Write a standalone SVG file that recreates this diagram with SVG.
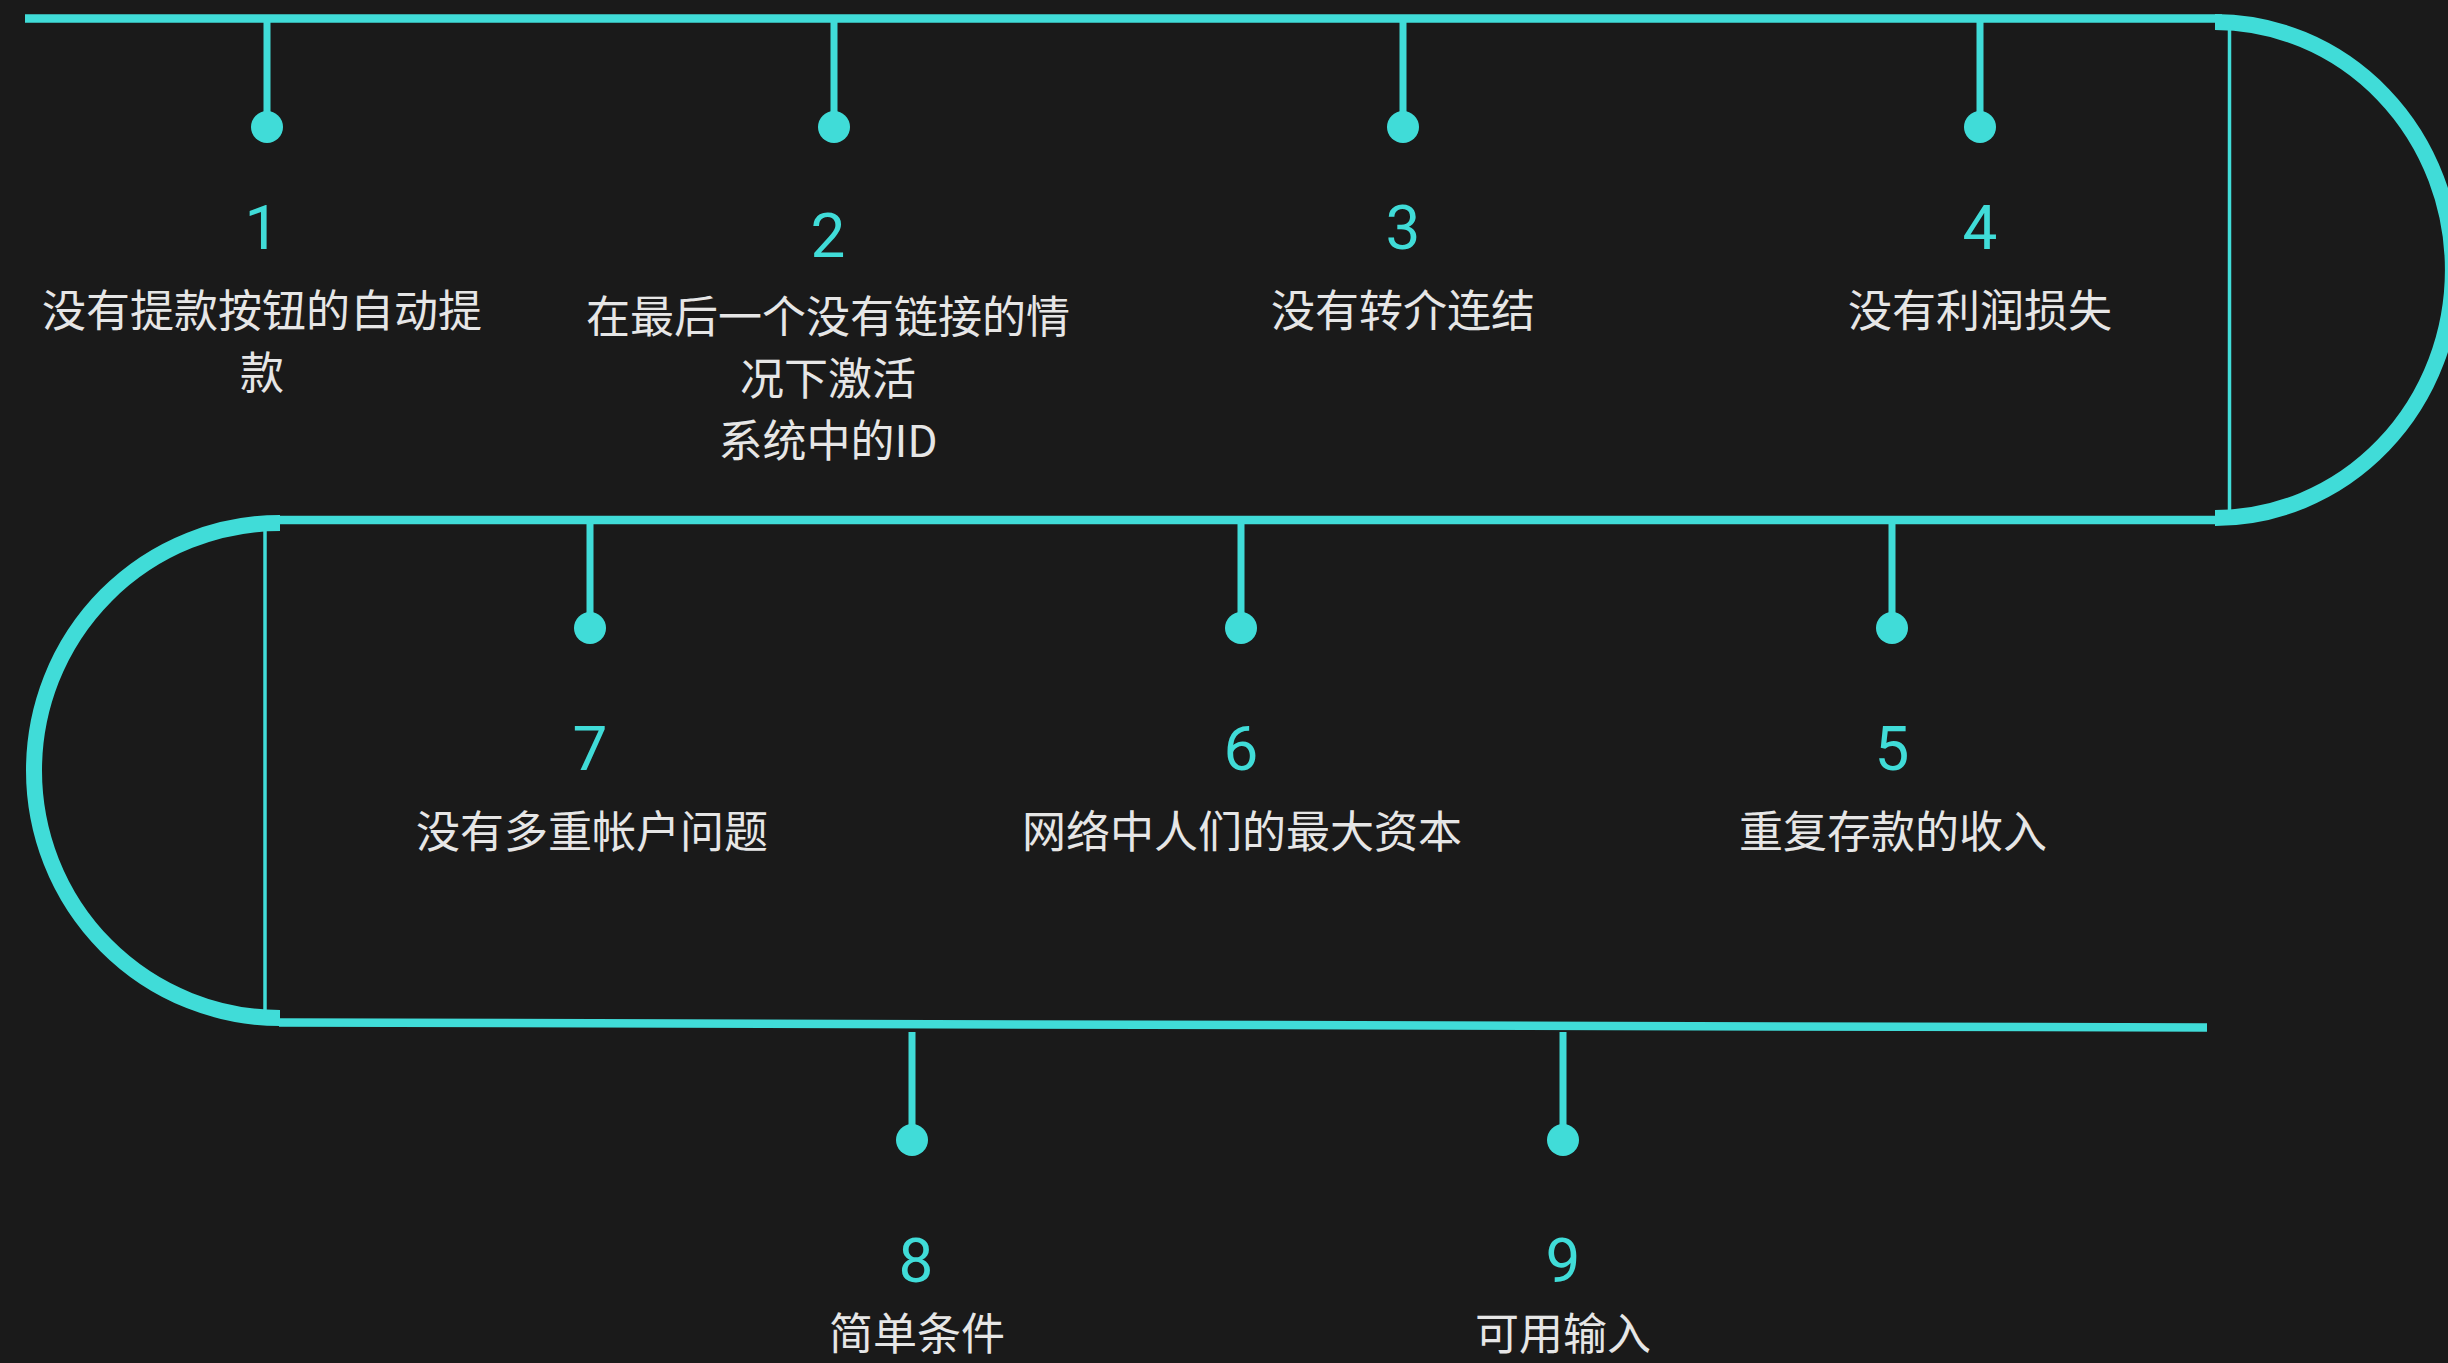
<svg xmlns="http://www.w3.org/2000/svg" width="2448" height="1363" viewBox="0 0 2448 1363">
<defs>
<style>
.bg{fill:#1a1a1a}
.main{stroke:#40dcd8;fill:none;stroke-width:8.5}
.arc{stroke:#40dcd8;fill:none;stroke-width:16;stroke-linecap:butt}
.thin{stroke:#40dcd8;stroke-width:3.5}
.stem{stroke:#40dcd8;stroke-width:7}
.dot{fill:#40dcd8}
.num{fill:#40dcd8;font-family:Roboto,"Liberation Sans",sans-serif;font-weight:400;font-size:62px;text-anchor:middle}
.lbl{fill:#e6e6e6;font-family:"Noto Sans CJK SC","Noto Sans",sans-serif;font-size:44px;text-anchor:middle}
</style>
</defs>
<rect class="bg" x="0" y="0" width="2448" height="1363"/>
<g id="connectors">
<line class="main" x1="25" y1="18.5" x2="2222" y2="18.5"/>
<path class="arc" d="M2215 22 A238 248 0 0 1 2215 518"/>
<line class="thin" x1="2229.5" y1="30" x2="2229.5" y2="510"/>
<line class="main" x1="279" y1="520" x2="2222" y2="520"/>
<path class="arc" d="M280 523 A246 247.5 0 0 0 280 1018"/>
<line class="thin" x1="265" y1="530" x2="265" y2="1012"/>
<line class="main" x1="279" y1="1022.5" x2="2207" y2="1027.5"/>
</g>
<g id="node1">
<line class="stem" x1="267" y1="22" x2="267" y2="114"/>
<circle class="dot" cx="267" cy="127" r="16"/>
<text class="num" x="262" y="249">1</text>
<text class="lbl" x="262" y="327">没有提款按钮的自动提</text>
<text class="lbl" x="262" y="389">款</text>
</g>
<g id="node2">
<line class="stem" x1="834" y1="22" x2="834" y2="114"/>
<circle class="dot" cx="834" cy="127" r="16"/>
<text class="num" x="828" y="257">2</text>
<text class="lbl" x="828" y="333">在最后一个没有链接的情</text>
<text class="lbl" x="828" y="395">况下激活</text>
<text class="lbl" x="828" y="457">系统中的ID</text>
</g>
<g id="node3">
<line class="stem" x1="1403" y1="22" x2="1403" y2="114"/>
<circle class="dot" cx="1403" cy="127" r="16"/>
<text class="num" x="1403" y="249">3</text>
<text class="lbl" x="1403" y="327">没有转介连结</text>
</g>
<g id="node4">
<line class="stem" x1="1980" y1="22" x2="1980" y2="114"/>
<circle class="dot" cx="1980" cy="127" r="16"/>
<text class="num" x="1980" y="249">4</text>
<text class="lbl" x="1980" y="327">没有利润损失</text>
</g>
<g id="node5">
<line class="stem" x1="1892" y1="524" x2="1892" y2="615"/>
<circle class="dot" cx="1892" cy="628" r="16"/>
<text class="num" x="1892" y="770">5</text>
<text class="lbl" x="1893" y="848">重复存款的收入</text>
</g>
<g id="node6">
<line class="stem" x1="1241" y1="524" x2="1241" y2="615"/>
<circle class="dot" cx="1241" cy="628" r="16"/>
<text class="num" x="1241" y="770">6</text>
<text class="lbl" x="1242" y="848">网络中人们的最大资本</text>
</g>
<g id="node7">
<line class="stem" x1="590" y1="524" x2="590" y2="615"/>
<circle class="dot" cx="590" cy="628" r="16"/>
<text class="num" x="590" y="770">7</text>
<text class="lbl" x="592" y="848">没有多重帐户问题</text>
</g>
<g id="node8">
<line class="stem" x1="912" y1="1032" x2="912" y2="1127"/>
<circle class="dot" cx="912" cy="1140" r="16"/>
<text class="num" x="916" y="1282">8</text>
<text class="lbl" x="917" y="1350">简单条件</text>
</g>
<g id="node9">
<line class="stem" x1="1563" y1="1032" x2="1563" y2="1127"/>
<circle class="dot" cx="1563" cy="1140" r="16"/>
<text class="num" x="1563" y="1282">9</text>
<text class="lbl" x="1563" y="1350">可用输入</text>
</g>
</svg>
